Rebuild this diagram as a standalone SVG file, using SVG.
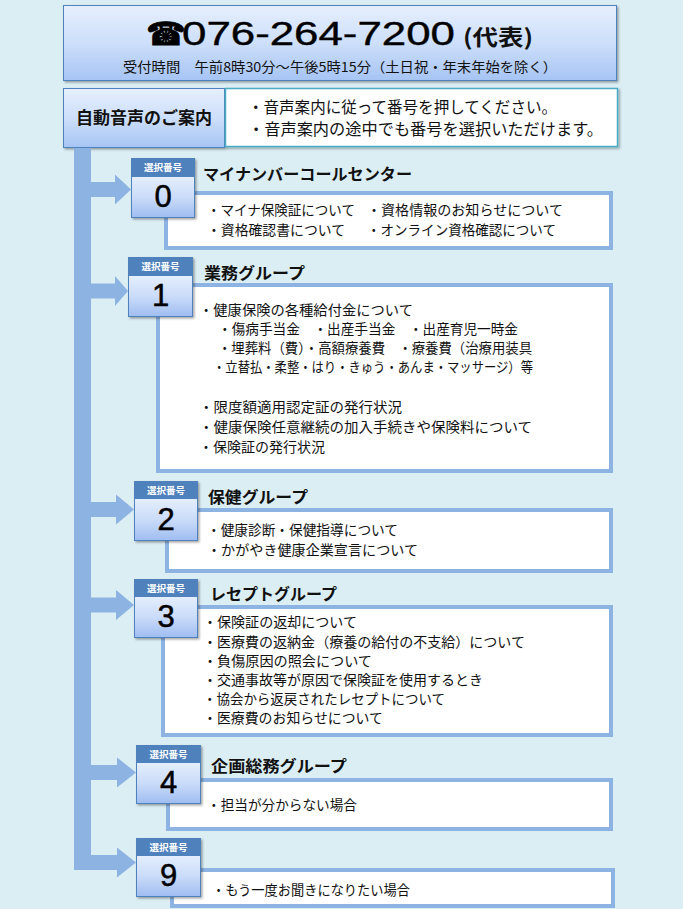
<svg xmlns="http://www.w3.org/2000/svg" width="683" height="909" viewBox="0 0 683 909">
<defs>
<linearGradient id="gHead" x1="0" y1="0" x2="0" y2="1">
<stop offset="0" stop-color="#e6effd"/>
<stop offset="0.5" stop-color="#cddffa"/>
<stop offset="1" stop-color="#a6c4f4"/>
</linearGradient>
<linearGradient id="gNum" x1="0" y1="0" x2="0" y2="1">
<stop offset="0" stop-color="#e4eefd"/>
<stop offset="0.5" stop-color="#cbdcf9"/>
<stop offset="1" stop-color="#9fbdf1"/>
</linearGradient>
<filter id="sh" x="-10%" y="-10%" width="130%" height="130%">
<feDropShadow dx="1.5" dy="1.5" stdDeviation="1" flood-color="#000" flood-opacity="0.35"/>
</filter>
</defs>
<style>
.jp{font-family:"Noto Sans CJK JP","Noto Sans",sans-serif;fill:#111}
.body{font-size:14px}
.ttl{font-size:16px;font-weight:bold}
.band{fill:#4f81bd}
.nbox{fill:url(#gNum);stroke:#4f81bd;stroke-width:1}
.bandtxt{font-family:"Noto Sans CJK JP",sans-serif;font-size:9.5px;font-weight:bold;fill:#fff}
.num{font-family:"Liberation Sans",Arial,sans-serif;font-size:31px;fill:#000;stroke:#000;stroke-width:0.5}
.cbox{fill:#fff;stroke:#8db3e2;stroke-width:4}
.conn{fill:#8db3e2}
</style>
<rect x="0" y="0" width="683" height="909" fill="#dbeef4"/>

<g id="header">
<rect x="63.5" y="5.5" width="553" height="75" fill="url(#gHead)" stroke="#4f81bd" stroke-width="1" filter="url(#sh)"/>
<text x="146" y="45" font-family="DejaVu Sans,sans-serif" font-size="32" fill="#000" stroke="#000" stroke-width="0.8">☎</text>
<text x="182" y="45" font-family="Liberation Sans,Arial,sans-serif" font-size="34" fill="#000" stroke="#000" stroke-width="0.4" textLength="273" lengthAdjust="spacingAndGlyphs">076-264-7200</text>
<text x="463" y="45" class="jp" font-size="22" font-weight="bold" textLength="70" lengthAdjust="spacingAndGlyphs">(代表)</text>
<text x="123" y="72" class="jp" font-size="13.5" textLength="434" lengthAdjust="spacingAndGlyphs">受付時間　午前8時30分～午後5時15分（土日祝・年末年始を除く）</text>
</g>

<g id="auto-guide">
<rect x="63.5" y="88.5" width="161" height="59" fill="url(#gHead)" stroke="#4f81bd" stroke-width="1" filter="url(#sh)"/>
<text x="144" y="124" class="jp" font-size="17" font-weight="bold" text-anchor="middle">自動音声のご案内</text>
</g>
<g id="auto-guide-note">
<rect x="225.5" y="88.5" width="392" height="58" fill="#fff" stroke="#4bacc6" stroke-width="1.5" filter="url(#sh)"/>
<text x="248" y="113" class="jp" font-size="16" textLength="309" lengthAdjust="spacingAndGlyphs">・音声案内に従って番号を押してください。</text>
<text x="248" y="135" class="jp" font-size="16" textLength="355" lengthAdjust="spacingAndGlyphs">・音声案内の途中でも番号を選択いただけます。</text>
</g>

<g id="connectors">
<rect class="conn" x="74" y="148" width="17" height="722"/>
<path class="conn" d="M91,182 H115 V174.5 L131,189.5 L115,204.5 V197 H91 Z"/>
<path class="conn" d="M91,283.5 H115 V276 L128,291 L115,306 V298.5 H91 Z"/>
<path class="conn" d="M91,502 H116 V494.5 L134,509.5 L116,524.5 V517 H91 Z"/>
<path class="conn" d="M91,597.5 H116 V590 L134,605 L116,620 V612.5 H91 Z"/>
<path class="conn" d="M91,765 H117 V757.5 L136,772.5 L117,787.5 V780 H91 Z"/>
<path class="conn" d="M74,855 H117 V847.5 L136,862.5 L117,877.5 V870 H74 Z"/>
</g>

<g id="option-0">
<text x="203" y="180" class="jp ttl" textLength="209" lengthAdjust="spacingAndGlyphs">マイナンバーコールセンター</text>
<rect class="cbox" x="166" y="193" width="445" height="55"/>
<text x="207" y="215" class="jp body" textLength="148" lengthAdjust="spacingAndGlyphs">・マイナ保険証について</text>
<text x="367" y="215" class="jp body" textLength="196" lengthAdjust="spacingAndGlyphs">・資格情報のお知らせについて</text>
<text x="207" y="235" class="jp body" textLength="138" lengthAdjust="spacingAndGlyphs">・資格確認書について</text>
<text x="367" y="235" class="jp body" textLength="189" lengthAdjust="spacingAndGlyphs">・オンライン資格確認について</text>
<g filter="url(#sh)">
<rect class="band" x="131" y="158" width="64" height="18"/>
<rect class="nbox" x="131.5" y="176.5" width="63" height="41"/>
</g>
<text x="163" y="171" class="bandtxt" text-anchor="middle">選択番号</text>
<text x="163" y="207" class="num" text-anchor="middle">0</text>
</g>

<g id="option-1">
<text x="204" y="279" class="jp ttl" textLength="101" lengthAdjust="spacingAndGlyphs">業務グループ</text>
<rect class="cbox" x="158" y="285" width="453" height="186"/>
<text x="199" y="315" class="jp body" textLength="214" lengthAdjust="spacingAndGlyphs">・健康保険の各種給付金について</text>
<text x="218" y="334" class="jp body" textLength="300" lengthAdjust="spacingAndGlyphs">・傷病手当金　・出産手当金　・出産育児一時金</text>
<text x="218" y="353" class="jp body" textLength="314" lengthAdjust="spacingAndGlyphs">・埋葬料（費）・高額療養費　・療養費（治療用装具</text>
<text x="213" y="372" class="jp body" textLength="320" lengthAdjust="spacingAndGlyphs">・立替払・柔整・はり・きゅう・あんま・マッサージ）等</text>
<text x="199" y="412" class="jp body" textLength="203" lengthAdjust="spacingAndGlyphs">・限度額適用認定証の発行状況</text>
<text x="199" y="432" class="jp body" textLength="333" lengthAdjust="spacingAndGlyphs">・健康保険任意継続の加入手続きや保険料について</text>
<text x="199" y="452" class="jp body" textLength="126" lengthAdjust="spacingAndGlyphs">・保険証の発行状況</text>
<g filter="url(#sh)">
<rect class="band" x="128" y="257" width="65" height="18"/>
<rect class="nbox" x="128.5" y="275.5" width="64" height="41"/>
</g>
<text x="160.5" y="270" class="bandtxt" text-anchor="middle">選択番号</text>
<text x="160.5" y="306" class="num" text-anchor="middle">1</text>
</g>

<g id="option-2">
<text x="208" y="503" class="jp ttl" textLength="100" lengthAdjust="spacingAndGlyphs">保健グループ</text>
<rect class="cbox" x="167" y="510" width="444" height="61"/>
<text x="207" y="535" class="jp body" textLength="191" lengthAdjust="spacingAndGlyphs">・健康診断・保健指導について</text>
<text x="207" y="555" class="jp body" textLength="211" lengthAdjust="spacingAndGlyphs">・かがやき健康企業宣言について</text>
<g filter="url(#sh)">
<rect class="band" x="134" y="481" width="64" height="17"/>
<rect class="nbox" x="134.5" y="498.5" width="63" height="42"/>
</g>
<text x="166" y="493.5" class="bandtxt" text-anchor="middle">選択番号</text>
<text x="166" y="530" class="num" text-anchor="middle">2</text>
</g>

<g id="option-3">
<text x="210" y="600" class="jp ttl" textLength="127" lengthAdjust="spacingAndGlyphs">レセプトグループ</text>
<rect class="cbox" x="163" y="607" width="448" height="128"/>
<text x="203" y="627" class="jp body" textLength="154" lengthAdjust="spacingAndGlyphs">・保険証の返却について</text>
<text x="203" y="647" class="jp body" textLength="322" lengthAdjust="spacingAndGlyphs">・医療費の返納金（療養の給付の不支給）について</text>
<text x="203" y="666" class="jp body" textLength="169" lengthAdjust="spacingAndGlyphs">・負傷原因の照会について</text>
<text x="203" y="685" class="jp body" textLength="280" lengthAdjust="spacingAndGlyphs">・交通事故等が原因で保険証を使用するとき</text>
<text x="203" y="704" class="jp body" textLength="242" lengthAdjust="spacingAndGlyphs">・協会から返戻されたレセプトについて</text>
<text x="203" y="723" class="jp body" textLength="180" lengthAdjust="spacingAndGlyphs">・医療費のお知らせについて</text>
<g filter="url(#sh)">
<rect class="band" x="134" y="579" width="64" height="17"/>
<rect class="nbox" x="134.5" y="596.5" width="63" height="41"/>
</g>
<text x="166" y="591.5" class="bandtxt" text-anchor="middle">選択番号</text>
<text x="166" y="627" class="num" text-anchor="middle">3</text>
</g>

<g id="option-4">
<text x="211" y="772" class="jp ttl" textLength="136" lengthAdjust="spacingAndGlyphs">企画総務グループ</text>
<rect class="cbox" x="168" y="780" width="443" height="49"/>
<text x="207" y="810" class="jp body" textLength="150" lengthAdjust="spacingAndGlyphs">・担当が分からない場合</text>
<g filter="url(#sh)">
<rect class="band" x="136" y="745" width="65" height="17"/>
<rect class="nbox" x="136.5" y="762.5" width="64" height="41"/>
</g>
<text x="168.5" y="757.5" class="bandtxt" text-anchor="middle">選択番号</text>
<text x="168.5" y="793" class="num" text-anchor="middle">4</text>
</g>

<g id="option-9">
<rect class="cbox" x="172" y="870" width="441" height="36"/>
<text x="212" y="895" class="jp body" textLength="198" lengthAdjust="spacingAndGlyphs">・もう一度お聞きになりたい場合</text>
<g filter="url(#sh)">
<rect class="band" x="136" y="838" width="65" height="17"/>
<rect class="nbox" x="136.5" y="855.5" width="64" height="41"/>
</g>
<text x="168.5" y="850.5" class="bandtxt" text-anchor="middle">選択番号</text>
<text x="168.5" y="886" class="num" text-anchor="middle">9</text>
</g>
</svg>
